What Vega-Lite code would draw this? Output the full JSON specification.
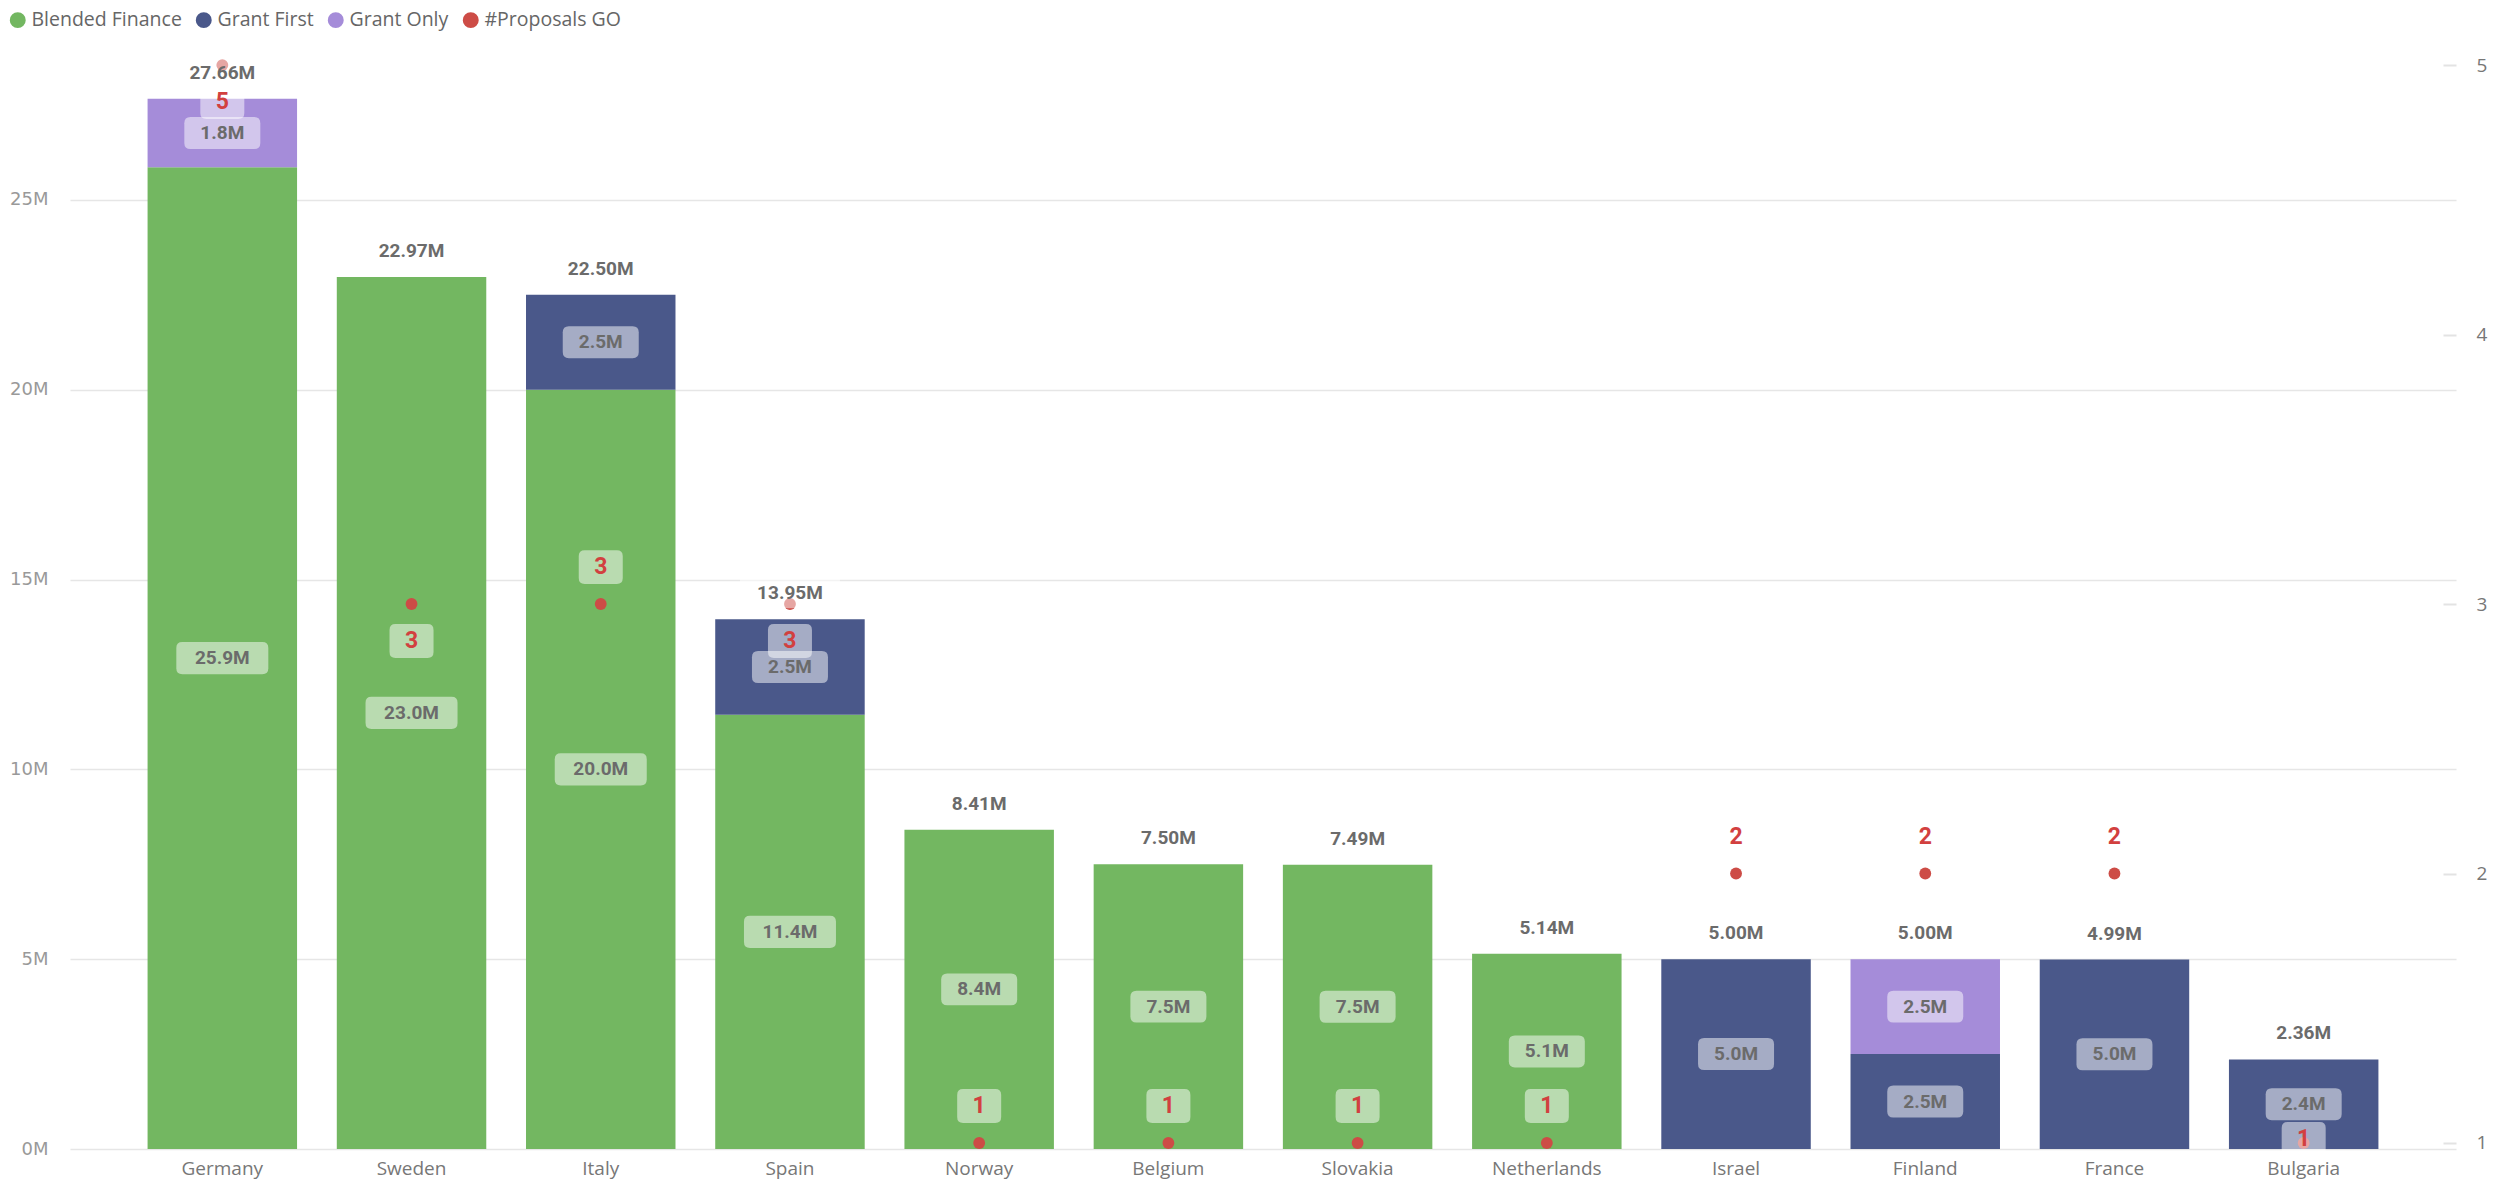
{
  "$schema": "https://vega.github.io/schema/vega-lite/v6.json",
  "width": 2386,
  "height": 1109,
  "autosize": {"type": "none"},
  "padding": {"left": 70, "top": 40, "right": 40, "bottom": 40},
  "background": "white",
  "config": {"view": {"stroke": null}, "font": "Open Sans"},
  "datasets": {
    "amounts": [
      {"country": "Germany", "type": "Blended Finance", "amount": 25.86},
      {"country": "Germany", "type": "Grant Only", "amount": 1.80},
      {"country": "Sweden", "type": "Blended Finance", "amount": 22.97},
      {"country": "Italy", "type": "Blended Finance", "amount": 20.00},
      {"country": "Italy", "type": "Grant First", "amount": 2.50},
      {"country": "Spain", "type": "Blended Finance", "amount": 11.44},
      {"country": "Spain", "type": "Grant First", "amount": 2.51},
      {"country": "Norway", "type": "Blended Finance", "amount": 8.41},
      {"country": "Belgium", "type": "Blended Finance", "amount": 7.50},
      {"country": "Slovakia", "type": "Blended Finance", "amount": 7.49},
      {"country": "Netherlands", "type": "Blended Finance", "amount": 5.14},
      {"country": "Israel", "type": "Grant First", "amount": 5.00},
      {"country": "Finland", "type": "Grant First", "amount": 2.50},
      {"country": "Finland", "type": "Grant Only", "amount": 2.50},
      {"country": "France", "type": "Grant First", "amount": 4.99},
      {"country": "Bulgaria", "type": "Grant First", "amount": 2.36}
    ],
    "proposals": [
      {"country": "Germany", "proposals": 5},
      {"country": "Sweden", "proposals": 3},
      {"country": "Italy", "proposals": 3},
      {"country": "Spain", "proposals": 3},
      {"country": "Norway", "proposals": 1},
      {"country": "Belgium", "proposals": 1},
      {"country": "Slovakia", "proposals": 1},
      {"country": "Netherlands", "proposals": 1},
      {"country": "Israel", "proposals": 2},
      {"country": "Finland", "proposals": 2},
      {"country": "France", "proposals": 2},
      {"country": "Bulgaria", "proposals": 1}
    ]
  },
  "encoding": {
    "x": {
      "field": "country",
      "type": "nominal",
      "sort": null,
      "scale": {
        "domain": ["Germany", "Sweden", "Italy", "Spain", "Norway", "Belgium", "Slovakia", "Netherlands", "Israel", "Finland", "France", "Bulgaria"],
        "paddingInner": 0.21,
        "paddingOuter": 0.41
      },
      "axis": {
        "title": null, "domain": false, "ticks": false, "tickSize": 0,
        "labelPadding": 10, "labelFont": "Open Sans", "labelFontSize": 19,
        "labelColor": "#777777", "labelAngle": 0
      }
    }
  },
  "layer": [
    {
      "data": {"name": "amounts"},
      "layer": [
        {
          "mark": {"type": "bar"},
          "encoding": {
            "y": {
              "field": "amount", "type": "quantitative",
              "scale": {"domain": [0, 29.21], "nice": false, "zero": true},
              "axis": {
                "title": null, "values": [0, 5, 10, 15, 20, 25],
                "labelExpr": "datum.value + 'M'",
                "labelFont": "DejaVu Sans", "labelFontSize": 18, "labelColor": "#999999",
                "labelPadding": 22, "ticks": false, "domain": false,
                "grid": true, "gridColor": "#e6e6e6", "gridWidth": 1.5
              }
            },
            "color": {
              "field": "type", "type": "nominal",
              "scale": {
                "domain": ["Blended Finance", "Grant First", "Grant Only", "#Proposals GO"],
                "range": ["#73B761", "#4A588A", "#A58CD9", "#CD4C46"]
              },
              "legend": {
                "orient": "none", "legendX": -62, "legendY": -30, "direction": "horizontal",
                "symbolType": "circle", "symbolSize": 254, "symbolStrokeWidth": 0,
                "labelFont": "Open Sans", "labelFontSize": 19.5, "labelColor": "#666666",
                "title": null, "columnPadding": 12, "labelOffset": 4
              }
            },
            "order": {"field": "type", "sort": "ascending"}
          }
        },
        {
          "transform": [
            {"stack": "amount", "groupby": ["country"], "sort": [{"field": "type", "order": "ascending"}], "as": ["y0", "y1"]},
            {"calculate": "(datum.y0 + datum.y1) / 2", "as": "mid"},
            {"calculate": "format(datum.amount, '.1f') + 'M'", "as": "label"}
          ],
          "layer": [
            {
              "mark": {"type": "point", "filled": true, "fill": "white", "opacity": 0.5, "strokeWidth": 0},
              "encoding": {
                "y": {
                  "field": "mid", "type": "quantitative", "stack": null,
                  "axis": {
                    "title": null, "values": [0, 5, 10, 15, 20, 25],
                    "labelExpr": "datum.value + 'M'",
                    "labelFont": "DejaVu Sans", "labelFontSize": 18, "labelColor": "#999999",
                    "labelPadding": 22, "ticks": false, "domain": false,
                    "grid": true, "gridColor": "#e6e6e6", "gridWidth": 1.5
                  }
                },
                "shape": {
                  "condition": {"test": "length(datum.label) > 4", "value": "M-0.87,-0.35L0.87,-0.35Q1,-0.35,1,-0.22L1,0.22Q1,0.35,0.87,0.35L-0.87,0.35Q-1,0.35,-1,0.22L-1,-0.22Q-1,-0.35,-0.87,-0.35Z"},
                  "value": "M-0.84,-0.42L0.84,-0.42Q1,-0.42,1,-0.26L1,0.26Q1,0.42,0.84,0.42L-0.84,0.42Q-1,0.42,-1,0.26L-1,-0.26Q-1,-0.42,-0.84,-0.42Z"
                },
                "size": {"condition": {"test": "length(datum.label) > 4", "value": 8464}, "value": 5776}
              }
            },
            {
              "mark": {"type": "text", "font": "Roboto", "fontWeight": "bold", "fontSize": 19, "color": "#6b6b6b", "baseline": "middle"},
              "encoding": {
                "y": {
                  "field": "mid", "type": "quantitative", "stack": null,
                  "axis": {
                    "title": null, "values": [0, 5, 10, 15, 20, 25],
                    "labelExpr": "datum.value + 'M'",
                    "labelFont": "DejaVu Sans", "labelFontSize": 18, "labelColor": "#999999",
                    "labelPadding": 22, "ticks": false, "domain": false,
                    "grid": true, "gridColor": "#e6e6e6", "gridWidth": 1.5
                  }
                },
                "text": {"field": "label"}
              }
            }
          ]
        }
      ]
    },
    {
      "data": {"name": "proposals"},
      "encoding": {
        "y": {
          "field": "proposals", "type": "quantitative",
          "scale": {"domain": [0.9777, 5.093], "nice": false, "zero": false},
          "axis": {
            "orient": "right", "title": null, "values": [1, 2, 3, 4, 5], "format": "d",
            "labelFont": "Open Sans", "labelFontSize": 19, "labelColor": "#777777",
            "ticks": true, "tickSize": 13, "tickColor": "#e3e3e3", "tickWidth": 2,
            "offset": -13, "labelPadding": 20, "domain": false, "grid": false
          }
        }
      },
      "layer": [
        {
          "mark": {"type": "point", "filled": true, "size": 140, "opacity": 1, "strokeWidth": 0},
          "encoding": {
            "color": {
              "datum": "#Proposals GO", "type": "nominal",
              "legend": {
                "orient": "none", "legendX": -62, "legendY": -30, "direction": "horizontal",
                "symbolType": "circle", "symbolSize": 254, "symbolStrokeWidth": 0,
                "labelFont": "Open Sans", "labelFontSize": 19.5, "labelColor": "#666666",
                "title": null, "columnPadding": 12, "labelOffset": 4
              }
            }
          }
        },
        {
          "transform": [{"filter": {"field": "country", "oneOf": ["Italy", "Norway", "Belgium", "Slovakia", "Netherlands", "Israel", "Finland", "France"]}}],
          "layer": [
            {
              "mark": {"type": "point", "filled": true, "fill": "white", "opacity": 0.5, "strokeWidth": 0, "size": 1936,
                "shape": "M-0.73,-2.45L0.73,-2.45Q1,-2.45,1,-2.18L1,-1.18Q1,-0.91,0.73,-0.91L-0.73,-0.91Q-1,-0.91,-1,-1.18L-1,-2.18Q-1,-2.45,-0.73,-2.45Z"},
              "encoding": {}
            },
            {
              "mark": {"type": "text", "font": "Roboto", "fontWeight": "bold", "fontSize": 23, "color": "#D2403F", "baseline": "middle", "dy": -37},
              "encoding": {"text": {"field": "proposals", "type": "quantitative"}}
            }
          ]
        },
        {
          "transform": [{"filter": {"field": "country", "oneOf": ["Germany", "Sweden", "Spain"]}}],
          "layer": [
            {
              "mark": {"type": "point", "filled": true, "fill": "white", "opacity": 0.5, "strokeWidth": 0, "size": 1936,
                "shape": "M-0.73,0.91L0.73,0.91Q1,0.91,1,1.18L1,2.18Q1,2.45,0.73,2.45L-0.73,2.45Q-1,2.45,-1,2.18L-1,1.18Q-1,0.91,-0.73,0.91Z"},
              "encoding": {}
            },
            {
              "mark": {"type": "text", "font": "Roboto", "fontWeight": "bold", "fontSize": 23, "color": "#D2403F", "baseline": "middle", "dy": 37},
              "encoding": {"text": {"field": "proposals", "type": "quantitative"}}
            }
          ]
        },
        {
          "transform": [{"filter": {"field": "country", "oneOf": ["Bulgaria"]}}],
          "layer": [
            {
              "mark": {"type": "point", "filled": true, "fill": "white", "opacity": 0.5, "strokeWidth": 0, "size": 1936,
                "shape": "M-0.73,-0.95L0.73,-0.95Q1,-0.95,1,-0.68L1,0.32Q1,0.59,0.73,0.59L-0.73,0.59Q-1,0.59,-1,0.32L-1,-0.68Q-1,-0.95,-0.73,-0.95Z"},
              "encoding": {}
            },
            {
              "mark": {"type": "text", "font": "Roboto", "fontWeight": "bold", "fontSize": 23, "color": "#D2403F", "baseline": "middle", "dy": -4},
              "encoding": {"text": {"field": "proposals", "type": "quantitative"}}
            }
          ]
        }
      ]
    },
    {
      "data": {"name": "amounts"},
      "transform": [
        {"aggregate": [{"op": "sum", "field": "amount", "as": "total"}], "groupby": ["country"]},
        {"calculate": "format(datum.total, '.2f') + 'M'", "as": "tlabel"}
      ],
      "encoding": {
        "y": {"field": "total", "type": "quantitative", "scale": {"domain": [0, 29.21], "nice": false}, "axis": null}
      },
      "layer": [
        {
          "mark": {"type": "point", "filled": true, "fill": "white", "opacity": 0.5, "strokeWidth": 0, "size": 10000,
            "shape": "M-1,-0.82L1,-0.82L1,-0.22L-1,-0.22Z"},
          "encoding": {}
        },
        {
          "mark": {"type": "text", "font": "Roboto", "fontWeight": "bold", "fontSize": 19, "color": "#6b6b6b", "baseline": "middle", "dy": -26},
          "encoding": {"text": {"field": "tlabel"}}
        }
      ]
    }
  ],
  "resolve": {"scale": {"y": "independent"}, "axis": {"y": "independent"}}
}
